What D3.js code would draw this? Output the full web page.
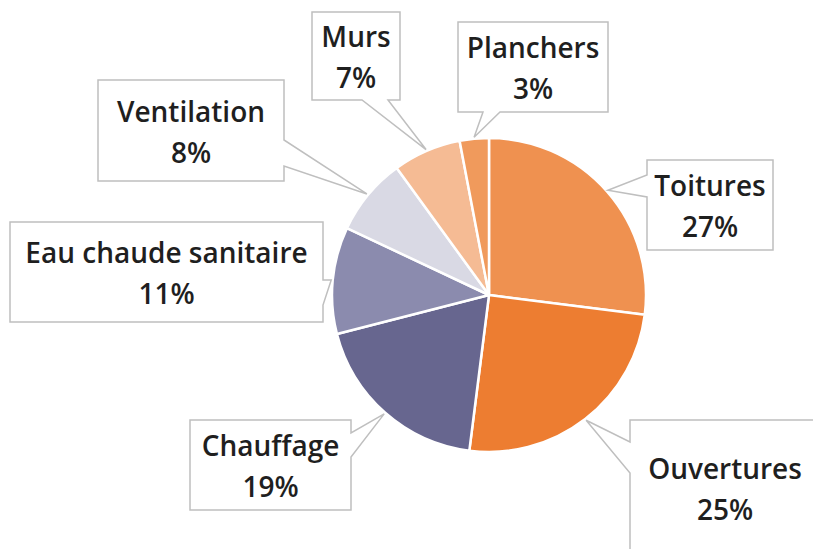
<!DOCTYPE html>
<html><head><meta charset="utf-8">
<script src="https://cdn.jsdelivr.net/npm/d3@7"></script>
<style>html,body{margin:0;padding:0;background:#fff;overflow:hidden}</style>
</head><body>
<svg id="c" width="813" height="549"></svg>
<script>
const categories = ["Toitures","Ouvertures","Chauffage","Eau chaude sanitaire","Ventilation","Murs","Planchers"];
const values = [27,25,19,11,8,7,3];
const labels = ["27%","25%","19%","11%","8%","7%","3%"];
const colors = ["#EF9150","#ED7D31","#67668F","#8B8BAE","#D9D9E4","#F5BB94","#F09A5C"];

// callout layout: box [x,y,w,h], side of pointer, pointer base along that side
const layout = [
  {box:[647,160,126,90], side:"left",   base:[175,197]},
  {box:[630,420,190,136], side:"left",  base:[442,473]},
  {box:[190,420,161,90], side:"right",  base:[433,457]},
  {box:[10,222,313,100], side:"right",  base:[280,305]},
  {box:[98,80,186,101], side:"right",   base:[140,166]},
  {box:[312,12,88,88], side:"bottom",   base:[362,388]},
  {box:[458,22,150,90], side:"bottom",  base:[483,500]}
];

const svg = d3.select("#c");
const cx = 489, cy = 295, R = 157;
const g = svg.append("g").attr("transform",`translate(${cx},${cy})`);
const pie = d3.pie().sort(null).value(d=>d).startAngle(0).endAngle(2*Math.PI);
const arcs = pie(values);
const arc = d3.arc().innerRadius(0).outerRadius(R);
g.selectAll("path.slice").data(arcs).enter().append("path")
  .attr("class","slice")
  .attr("d",arc)
  .attr("fill",(d,i)=>colors[i])
  .attr("stroke","#fff").attr("stroke-width",2.5).attr("stroke-linejoin","round");

function calloutPath(L, tip){
  const [x,y,w,h] = L.box, [b1,b2] = L.base;
  const x2=x+w, y2=y+h;
  const p=[];
  p.push([x,y]);
  p.push([x2,y]);
  if(L.side==="right"){ p.push([x2,b1]); p.push(tip); p.push([x2,b2]); }
  p.push([x2,y2]);
  if(L.side==="bottom"){ p.push([b2,y2]); p.push(tip); p.push([b1,y2]); }
  p.push([x,y2]);
  if(L.side==="left"){ p.push([x,b2]); p.push(tip); p.push([x,b1]); }
  return "M"+p.map(q=>q.join(",")).join("L")+"Z";
}

const lg = svg.append("g");
arcs.forEach((a,i)=>{
  const L = layout[i];
  const mid = (a.startAngle+a.endAngle)/2;
  const rr = R+1.5;
  const tip = [cx+rr*Math.sin(mid), cy-rr*Math.cos(mid)];
  lg.append("path").attr("d",calloutPath(L,tip))
    .attr("fill","#fff").attr("stroke","#BFBFBF").attr("stroke-width",1.5)
    .attr("stroke-linejoin","miter");
  const [x,y,w,h]=L.box;
  const tcx = x+w/2, tcy = y+h/2;
  const t = lg.append("text").attr("text-anchor","middle")
    .attr("font-family","'Open Sans', sans-serif").attr("font-weight",600)
    .attr("font-size",28).attr("fill","#1f1f1f");
  t.append("tspan").attr("x",tcx).attr("y",tcy-9).text(categories[i]);
  t.append("tspan").attr("x",tcx).attr("y",tcy+32).text(labels[i]);
});
</script>
</body></html>
